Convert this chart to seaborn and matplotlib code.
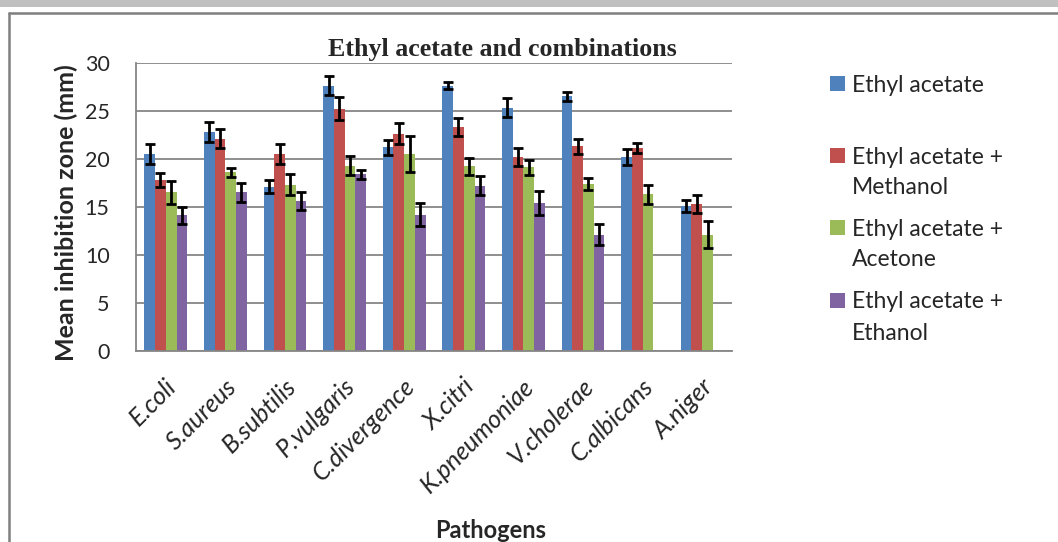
import numpy as np
import pandas as pd
import matplotlib
matplotlib.use('Agg')
import matplotlib.pyplot as plt
import matplotlib.transforms as mtransforms
from matplotlib.patches import Rectangle
from matplotlib.lines import Line2D
import seaborn as sns

# --- データ ---
pathogens = ['E.coli', 'S.aureus', 'B.subtilis', 'P.vulgaris', 'C.divergence',
             'X.citri', 'K.pneumoniae', 'V.cholerae', 'C.albicans', 'A.niger']
series = ['Ethyl acetate', 'Ethyl acetate + Methanol',
          'Ethyl acetate + Acetone', 'Ethyl acetate + Ethanol']
legend_labels = ['Ethyl acetate', 'Ethyl acetate +\nMethanol',
                 'Ethyl acetate +\nAcetone', 'Ethyl acetate +\nEthanol']

ethyl_acetate = [20.5, 22.8, 17.1, 27.6, 21.2, 27.6, 25.3, 26.5, 20.2, 15.1]
ea_methanol = [17.8, 22.1, 20.5, 25.2, 22.6, 23.3, 20.2, 21.3, 21.1, 15.3]
ea_acetone = [16.5, 18.6, 17.3, 19.3, 20.5, 19.2, 19.1, 17.4, 16.3, 12.1]
ea_ethanol = [14.1, 16.5, 15.6, 18.4, 14.2, 17.2, 15.4, 12.1, np.nan, np.nan]

err_ethyl_acetate = [1.0, 1.0, 0.7, 1.0, 0.8, 0.35, 1.0, 0.5, 0.8, 0.6]
err_ea_methanol = [0.75, 1.0, 1.0, 1.2, 1.1, 0.9, 0.9, 0.8, 0.5, 0.9]
err_ea_acetone = [1.2, 0.45, 1.1, 1.0, 1.9, 0.9, 0.75, 0.65, 1.0, 1.4]
err_ea_ethanol = [0.9, 1.0, 0.9, 0.45, 1.2, 1.0, 1.3, 1.1, np.nan, np.nan]

colors = ['#4F81BD', '#C0504D', '#9BBB59', '#8064A2']

values = [ethyl_acetate, ea_methanol, ea_acetone, ea_ethanol]
errors = [err_ethyl_acetate, err_ea_methanol, err_ea_acetone, err_ea_ethanol]

df = pd.DataFrame({
    'pathogen': pathogens * len(series),
    'solvent': np.repeat(series, len(pathogens)),
    'zone': np.concatenate(values),
})

# --- スタイル ---
sns.set_style('white')
plt.rcParams['font.family'] = ['Lato', 'DejaVu Sans']
grey = '#868686'

W, H = 1058, 542
fig = plt.figure(figsize=(W / 100, H / 100), dpi=100)

# ページ上部の灰色帯と枠線
fig.patches.append(Rectangle((0, 1 - 7 / H), 1, 7 / H, transform=fig.transFigure,
                             facecolor='#c0c0c0', edgecolor='none'))
fig.lines.append(Line2D([9 / W, 1], [1 - 13 / H, 1 - 13 / H], transform=fig.transFigure,
                        color='#7f7f7f', linewidth=1.8))
fig.lines.append(Line2D([9 / W, 9 / W], [0, 1 - 13 / H], transform=fig.transFigure,
                        color='#7f7f7f', linewidth=1.8))

ax = fig.add_axes([136 / W, 1 - 351 / H, (732 - 136) / W, (351 - 62.7) / H])

sns.barplot(data=df, x='pathogen', y='zone', hue='solvent', hue_order=series,
            palette=colors, width=0.72, saturation=1, errorbar=None,
            linewidth=0, legend=False, ax=ax)

# エラーバー
bar_containers = list(ax.containers)
for j, cont in enumerate(bar_containers):
    for bar in cont:
        cx = bar.get_x() + bar.get_width() / 2
        i = int(round(cx))
        e = errors[j][i]
        if np.isnan(e) or np.isnan(bar.get_height()):
            continue
        ax.errorbar(cx, bar.get_height(), yerr=e, fmt='none', ecolor='black',
                    elinewidth=2, capsize=3.8, capthick=2, zorder=5)

ax.set_ylim(0, 30)
ax.set_xlim(-0.5, len(pathogens) - 0.5)
ax.set_yticks(range(0, 31, 5))
ax.yaxis.grid(True, color=grey, linewidth=1.3)
ax.set_axisbelow(True)
for s in ['top', 'right']:
    ax.spines[s].set_visible(False)
for s in ['left', 'bottom']:
    ax.spines[s].set_color(grey)
    ax.spines[s].set_linewidth(1.3)

ax.tick_params(axis='y', length=6, width=1.3, color=grey, pad=13, labelsize=15.5)
ax.set_xticks(np.arange(-0.5, len(pathogens), 1.0), minor=True)
ax.tick_params(axis='x', which='minor', length=6, width=1.3, color=grey)
ax.tick_params(axis='x', which='major', length=0, pad=17)
ax.set_xticks(range(len(pathogens)))
ax.set_xticklabels(pathogens, rotation=45, ha='right', rotation_mode='anchor',
                   fontsize=18, fontstyle='italic')
shift = mtransforms.ScaledTranslation(-1 / 100, 0, fig.dpi_scale_trans)
for lab in ax.get_xticklabels():
    lab.set_transform(lab.get_transform() + shift)

ax.set_ylabel('Mean inhibition zone (mm)', fontsize=18, fontweight='bold')
ax.yaxis.set_label_coords((78 - 136) / 596, 0.48)
ax.set_xlabel('Pathogens', fontsize=17, fontweight='bold', va='baseline')
ax.xaxis.set_label_coords((491 - 136) / 596, (351 - 538) / 288.3)

fig.text(502 / W, 1 - 56 / H, 'Ethyl acetate and combinations', ha='center', va='baseline',
         fontsize=18.7, fontweight='bold', family=['Liberation Serif', 'DejaVu Serif'])

# 凡例（手動配置）
leg_y = [83, 155, 227, 300]
for c, lab, y in zip(colors, legend_labels, leg_y):
    fig.patches.append(Rectangle((830 / W, 1 - (y + 7.5) / H), 15 / W, 15 / H,
                                 transform=fig.transFigure, facecolor=c, edgecolor='none'))
    for k, line in enumerate(lab.split('\n')):
        fig.text(852 / W, 1 - (y + 31 * k) / H, line, ha='left', va='center_baseline',
                 fontsize=16.5)

fig.savefig('out.png', dpi=100)
